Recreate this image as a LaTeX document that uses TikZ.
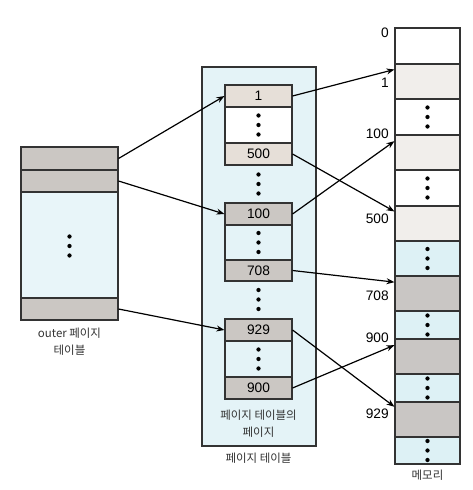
\documentclass[tikz,border=0pt]{standalone}
\usepackage{fontspec}
\setmainfont{Liberation Sans}
\newfontfamily\kr{Noto Sans CJK KR}
\usetikzlibrary{arrows.meta}
\definecolor{pgbg}{HTML}{E4F3F7}
\definecolor{cellgray}{HTML}{CBC7C3}
\definecolor{cellbeige}{HTML}{E6DFD8}
\definecolor{membeige}{HTML}{F1EEEB}
\definecolor{memblue}{HTML}{DDF1F5}
\definecolor{memgray}{HTML}{C9C6C4}
\definecolor{outmid}{HTML}{E8F5F9}
\definecolor{lbl}{HTML}{333333}
\tikzset{
  cell/.style={draw=black!80, line width=0.8pt, inner sep=0pt, font=\fontsize{10.3}{12}\selectfont},
  ow/.style={cell, minimum width=72.75pt},
  pw/.style={cell, minimum width=50.25pt},
  mw/.style={cell, minimum width=48.75pt},
  arr/.style={-{Stealth[length=6pt,width=4.5pt]}, line width=0.9pt, black},
  klbl/.style={font=\kr\fontsize{8.6}{12.75}\selectfont, text=lbl, align=center},
  mlbl/.style={anchor=east, inner sep=0pt, font=\fontsize{10.3}{12}\selectfont},
  dotf/.style={fill=black}
}
\newcommand\tridots[2]{%
  \foreach \dy in {-9.5,0,9.5}{\fill[dotf] (#1,#2+\dy) circle[radius=1.6pt];}}
\begin{document}
\begin{tikzpicture}[x=0.75pt,y=-0.75pt]
\useasboundingbox[fill=white] (0,0) rectangle (473,490);

% outer page table
\node[ow, fill=cellgray, minimum height=17.25pt] (o1) at (69.5,158.5) {};
\node[ow, fill=cellgray, minimum height=16.5pt] (o2) at (69.5,181) {};
\node[ow, fill=outmid, minimum height=79.5pt] (om) at (69.5,245) {};
\node[ow, fill=cellgray, minimum height=16.5pt] (o4) at (69.5,309) {};
\tridots{69.5}{246}
\node[klbl] (olbl) at (69.5,341.5) {outer 페이지\\테이블};

% page table background
\node[draw=black!80, line width=0.8pt, fill=pgbg, inner sep=0pt, minimum width=85.5pt, minimum height=284.25pt] (pt) at (259,256.5) {};
\node[klbl] (ptlbl) at (258.5,458) {페이지 테이블};

% group 1
\node[pw, fill=cellbeige, minimum height=16.5pt] (p1) at (258.5,96) {1};
\node[pw, fill=white, minimum height=27pt] (g1) at (258.5,125) {};
\node[pw, fill=cellbeige, minimum height=16.5pt] (p500) at (258.5,154) {500};
\tridots{258.5}{125}
\tridots{258.5}{184}
% group 2
\node[pw, fill=cellgray, minimum height=16.5pt] (p100) at (258.5,214) {100};
\node[pw, fill=pgbg, minimum height=26.25pt] (g2) at (258.5,242.5) {};
\node[pw, fill=cellgray, minimum height=15.75pt] (p708) at (258.5,270.5) {708};
\tridots{258.5}{242.5}
\tridots{258.5}{299.5}
% group 3
\node[pw, fill=cellgray, minimum height=16.5pt] (p929) at (258.5,330) {929};
\node[pw, fill=pgbg, minimum height=27pt] (g3) at (258.5,359) {};
\node[pw, fill=cellgray, minimum height=16.5pt] (p900) at (258.5,388) {900};
\tridots{258.5}{359}
\node[klbl] (pplbl) at (258.5,424) {페이지 테이블의\\페이지};

% memory
\node[mw, fill=white, minimum height=27pt] (m0) at (427.5,46) {};
\node[mw, fill=membeige, minimum height=26.25pt] (m1) at (427.5,81.5) {};
\node[mw, fill=white, minimum height=27pt] (md1) at (427.5,117) {};
\node[mw, fill=membeige, minimum height=26.25pt] (m100) at (427.5,152.5) {};
\node[mw, fill=white, minimum height=27pt] (md2) at (427.5,188) {};
\node[mw, fill=membeige, minimum height=26.25pt] (m500) at (427.5,223.5) {};
\node[mw, fill=memblue, minimum height=26.25pt] (md3) at (427.5,258.5) {};
\node[mw, fill=memgray, minimum height=26.25pt] (m708) at (427.5,293.5) {};
\node[mw, fill=memblue, minimum height=21pt] (md4) at (427.5,325) {};
\node[mw, fill=memgray, minimum height=26.25pt] (m900) at (427.5,356.5) {};
\node[mw, fill=memblue, minimum height=21pt] (md5) at (427.5,388) {};
\node[mw, fill=memgray, minimum height=26.25pt] (m929) at (427.5,419.5) {};
\node[mw, fill=memblue, minimum height=20.25pt] (md6) at (427.5,450.5) {};
\tridots{427.5}{117}
\tridots{427.5}{188}
\tridots{427.5}{258.5}
\tridots{427.5}{325}
\tridots{427.5}{388}
\tridots{427.5}{450.5}
\node[klbl] (mlb) at (427.5,475) {메모리};

% memory address labels
\node[mlbl] (l0) at (389,33) {0};
\node[mlbl] (l1) at (389,83) {1};
\node[mlbl] (l100) at (389,134) {100};
\node[mlbl] (l500) at (389,219) {500};
\node[mlbl] (l708) at (389,296) {708};
\node[mlbl] (l900) at (389,338) {900};
\node[mlbl] (l929) at (389,414) {929};

% arrows outer -> page tables
\draw[arr] (o1.east) -- (p1.west);
\draw[arr] (o2.east) -- (p100.west);
\draw[arr] (o4.east) -- (p929.west);
% arrows page tables -> memory
\draw[arr] (p1.east) -- ([yshift=-4.5pt]m1.north west);
\draw[arr] (p500.east) -- ([yshift=-4.5pt]m500.north west);
\draw[arr] (p100.east) -- ([yshift=-5pt]m100.north west);
\draw[arr] (p708.east) -- ([yshift=-5pt]m708.north west);
\draw[arr] (p929.east) -- ([yshift=-4pt]m929.north west);
\draw[arr] (p900.east) -- ([yshift=-5pt]m900.north west);
\end{tikzpicture}
\end{document}
